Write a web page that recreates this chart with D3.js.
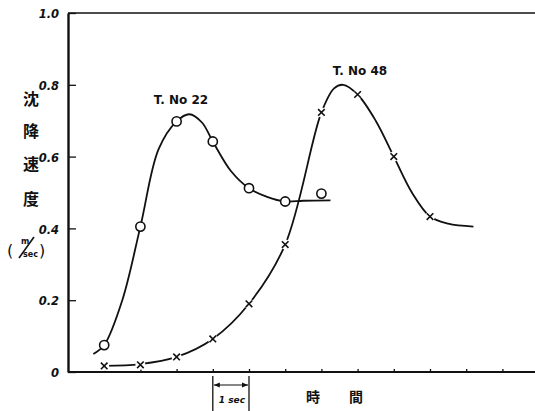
<!DOCTYPE html>
<html>
<head>
<meta charset="utf-8">
<script src="https://cdn.jsdelivr.net/npm/d3@7"></script>
<style>
body { margin: 0; background: #fff; }
text { font-family: "DejaVu Sans", sans-serif; fill: #111; }
</style>
</head>
<body>
<svg id="chart"></svg>
<script>
// time in ticks (1 tick = 1 sec), velocity in m/sec
var t22 = [1, 2, 3, 4, 5, 6, 7];
var v22 = [0.075, 0.405, 0.698, 0.642, 0.512, 0.475, 0.497];
var t48 = [1, 2, 3, 4, 5, 6, 7, 8, 9, 10];
var v48 = [0.017, 0.02, 0.042, 0.092, 0.19, 0.355, 0.723, 0.773, 0.60, 0.433];

// hand drawn curves, points the pen goes through
var curve22 = [[0.7, 0.05], [1, 0.075], [1.5, 0.2], [2, 0.405], [2.5, 0.62], [3, 0.698], [3.35, 0.718], [3.7, 0.695], [4, 0.642], [4.5, 0.56], [5, 0.512], [5.5, 0.488], [6, 0.475], [6.5, 0.477], [7.25, 0.478]];
var curve48 = [[1, 0.017], [2, 0.022], [3, 0.042], [4, 0.092], [5, 0.19], [6, 0.355], [7, 0.723], [7.35, 0.79], [7.6, 0.8], [8, 0.773], [8.5, 0.70], [9, 0.60], [9.5, 0.50], [10, 0.433], [10.5, 0.413], [11.2, 0.405]];

var yTicks = [0, 0.2, 0.4, 0.6, 0.8, 1.0];
var yTickLabels = ["0", "0.2", "0.4", "0.6", "0.8", "1.0"];
var xTicks = d3.range(1, 13);
var yTitle = ["沈", "降", "速", "度"];
var xTitle = ["時", "間"];

var width = 535,
    height = 411;

var x = d3.scaleLinear().domain([0, 13]).range([68, 538.6]);
var y = d3.scaleLinear().domain([0, 1]).range([372, 13]);

var svg = d3.select("#chart")
    .attr("width", width)
    .attr("height", height);

var line = d3.line()
    .x(function(d){ return x(d[0]); })
    .y(function(d){ return y(d[1]); })
    .curve(d3.curveCatmullRom.alpha(0.5));

// top frame line
svg.append("line")
    .attr("x1", x(0)).attr("x2", width)
    .attr("y1", y(1)).attr("y2", y(1))
    .attr("stroke", "#111").attr("stroke-width", 1.3);

// y axis
var yAxis = svg.append("g")
    .attr("transform", "translate(" + x(0) + ",0)")
    .call(d3.axisLeft(y)
        .tickValues(yTicks)
        .tickSizeInner(-8)
        .tickSizeOuter(0)
        .tickPadding(9)
        .tickFormat(function(d, i){ return yTickLabels[i]; }));
yAxis.select(".domain").attr("stroke", "#111").attr("stroke-width", 2.4);
yAxis.selectAll(".tick line").attr("stroke", "#111").attr("stroke-width", 1.3);
yAxis.selectAll(".tick text")
    .style("font-family", "DejaVu Sans")
    .style("font-size", "11.5px")
    .style("font-weight", "bold")
    .style("font-style", "italic")
    .attr("fill", "#111")
    .attr("dy", "0.4em");

// x axis
var xAxis = svg.append("g")
    .attr("transform", "translate(0," + y(0) + ")")
    .call(d3.axisBottom(x)
        .tickValues(xTicks)
        .tickSizeInner(-3)
        .tickSizeOuter(0)
        .tickFormat(""));
xAxis.select(".domain").attr("stroke", "#111").attr("stroke-width", 2.2)
    .attr("d", "M" + x(0) + ",0H" + width);
xAxis.selectAll(".tick line").attr("stroke", "#111").attr("stroke-width", 1.3);

// 1 sec marker
[4, 5].forEach(function(t){
    svg.append("line")
        .attr("x1", x(t)).attr("x2", x(t))
        .attr("y1", y(0) + 4).attr("y2", height)
        .attr("stroke", "#111").attr("stroke-width", 1.3);
});
var defs = svg.append("defs");
defs.append("marker")
    .attr("id", "ah")
    .attr("viewBox", "0 0 10 10")
    .attr("refX", 10).attr("refY", 5)
    .attr("markerWidth", 5).attr("markerHeight", 5)
    .attr("orient", "auto-start-reverse")
    .append("path").attr("d", "M0,1L10,5L0,9z").attr("fill", "#111");
svg.append("line")
    .attr("x1", x(4) + 1).attr("x2", x(5) - 1)
    .attr("y1", 385).attr("y2", 385)
    .attr("stroke", "#111").attr("stroke-width", 1.2)
    .attr("marker-start", "url(#ah)")
    .attr("marker-end", "url(#ah)");
svg.append("text")
    .attr("x", (x(4) + x(5)) / 2 + 1).attr("y", 403)
    .attr("text-anchor", "middle")
    .style("font-size", "9px").style("font-weight", "bold").style("font-style", "italic")
    .text("1 sec");

// axis titles
svg.selectAll(".xt")
    .data(xTitle)
    .enter()
    .append("text")
    .attr("x", function(d, i){ return 313 + i * 43; })
    .attr("y", 402)
    .attr("text-anchor", "middle")
    .style("font-family", "Noto Sans CJK JP")
    .style("font-size", "14px")
    .style("font-weight", "bold")
    .text(function(d){ return d; });

svg.selectAll(".yt")
    .data(yTitle)
    .enter()
    .append("text")
    .attr("x", 31)
    .attr("y", function(d, i){ return [105, 137, 170, 205][i]; })
    .attr("text-anchor", "middle")
    .style("font-family", "Noto Sans CJK JP")
    .style("font-size", "16px")
    .style("font-weight", "bold")
    .text(function(d){ return d; });

// unit (m/sec)
var unit = svg.append("g").attr("transform", "translate(7,250)");
unit.append("text").attr("x", 0).attr("y", 6).style("font-size", "16px").text("(");
unit.append("text").attr("x", 32).attr("y", 6).style("font-size", "16px").text(")");
unit.append("text").attr("x", 14).attr("y", -6).style("font-size", "8px").style("font-weight", "bold").text("m");
unit.append("line")
    .attr("x1", 12).attr("y1", 8).attr("x2", 27).attr("y2", -13)
    .attr("stroke", "#111").attr("stroke-width", 1.6);
unit.append("text").attr("x", 16).attr("y", 7).style("font-size", "8px").style("font-weight", "bold").text("sec");

// curves
svg.append("path")
    .datum(curve22)
    .attr("d", line)
    .attr("fill", "none")
    .attr("stroke", "#111")
    .attr("stroke-width", 1.8);

svg.append("path")
    .datum(curve48)
    .attr("d", line)
    .attr("fill", "none")
    .attr("stroke", "#111")
    .attr("stroke-width", 1.8);

// circles for T.No 22
svg.selectAll(".c22")
    .data(t22)
    .enter()
    .append("circle")
    .attr("cx", function(d){ return x(d); })
    .attr("cy", function(d, i){ return y(v22[i]); })
    .attr("r", 4.6)
    .attr("fill", "#fff")
    .attr("stroke", "#111")
    .attr("stroke-width", 1.6);

// crosses for T.No 48, with a small white gap round them
var cross = svg.selectAll(".c48")
    .data(t48)
    .enter()
    .append("g")
    .attr("transform", function(d, i){ return "translate(" + x(d) + "," + y(v48[i]) + ")"; });
cross.append("circle").attr("r", 5).attr("fill", "#fff");
cross.append("path")
    .attr("d", "M-3.3,-3.3L3.3,3.3M-3.3,3.3L3.3,-3.3")
    .attr("stroke", "#111")
    .attr("stroke-width", 1.6);

// series labels
svg.append("text")
    .attr("x", 181).attr("y", 104)
    .attr("text-anchor", "middle")
    .style("font-size", "12px").style("font-weight", "bold")
    .text("T. No 22");
svg.append("text")
    .attr("x", 360).attr("y", 75)
    .attr("text-anchor", "middle")
    .style("font-size", "12px").style("font-weight", "bold")
    .text("T. No 48");
</script>
</body>
</html>
